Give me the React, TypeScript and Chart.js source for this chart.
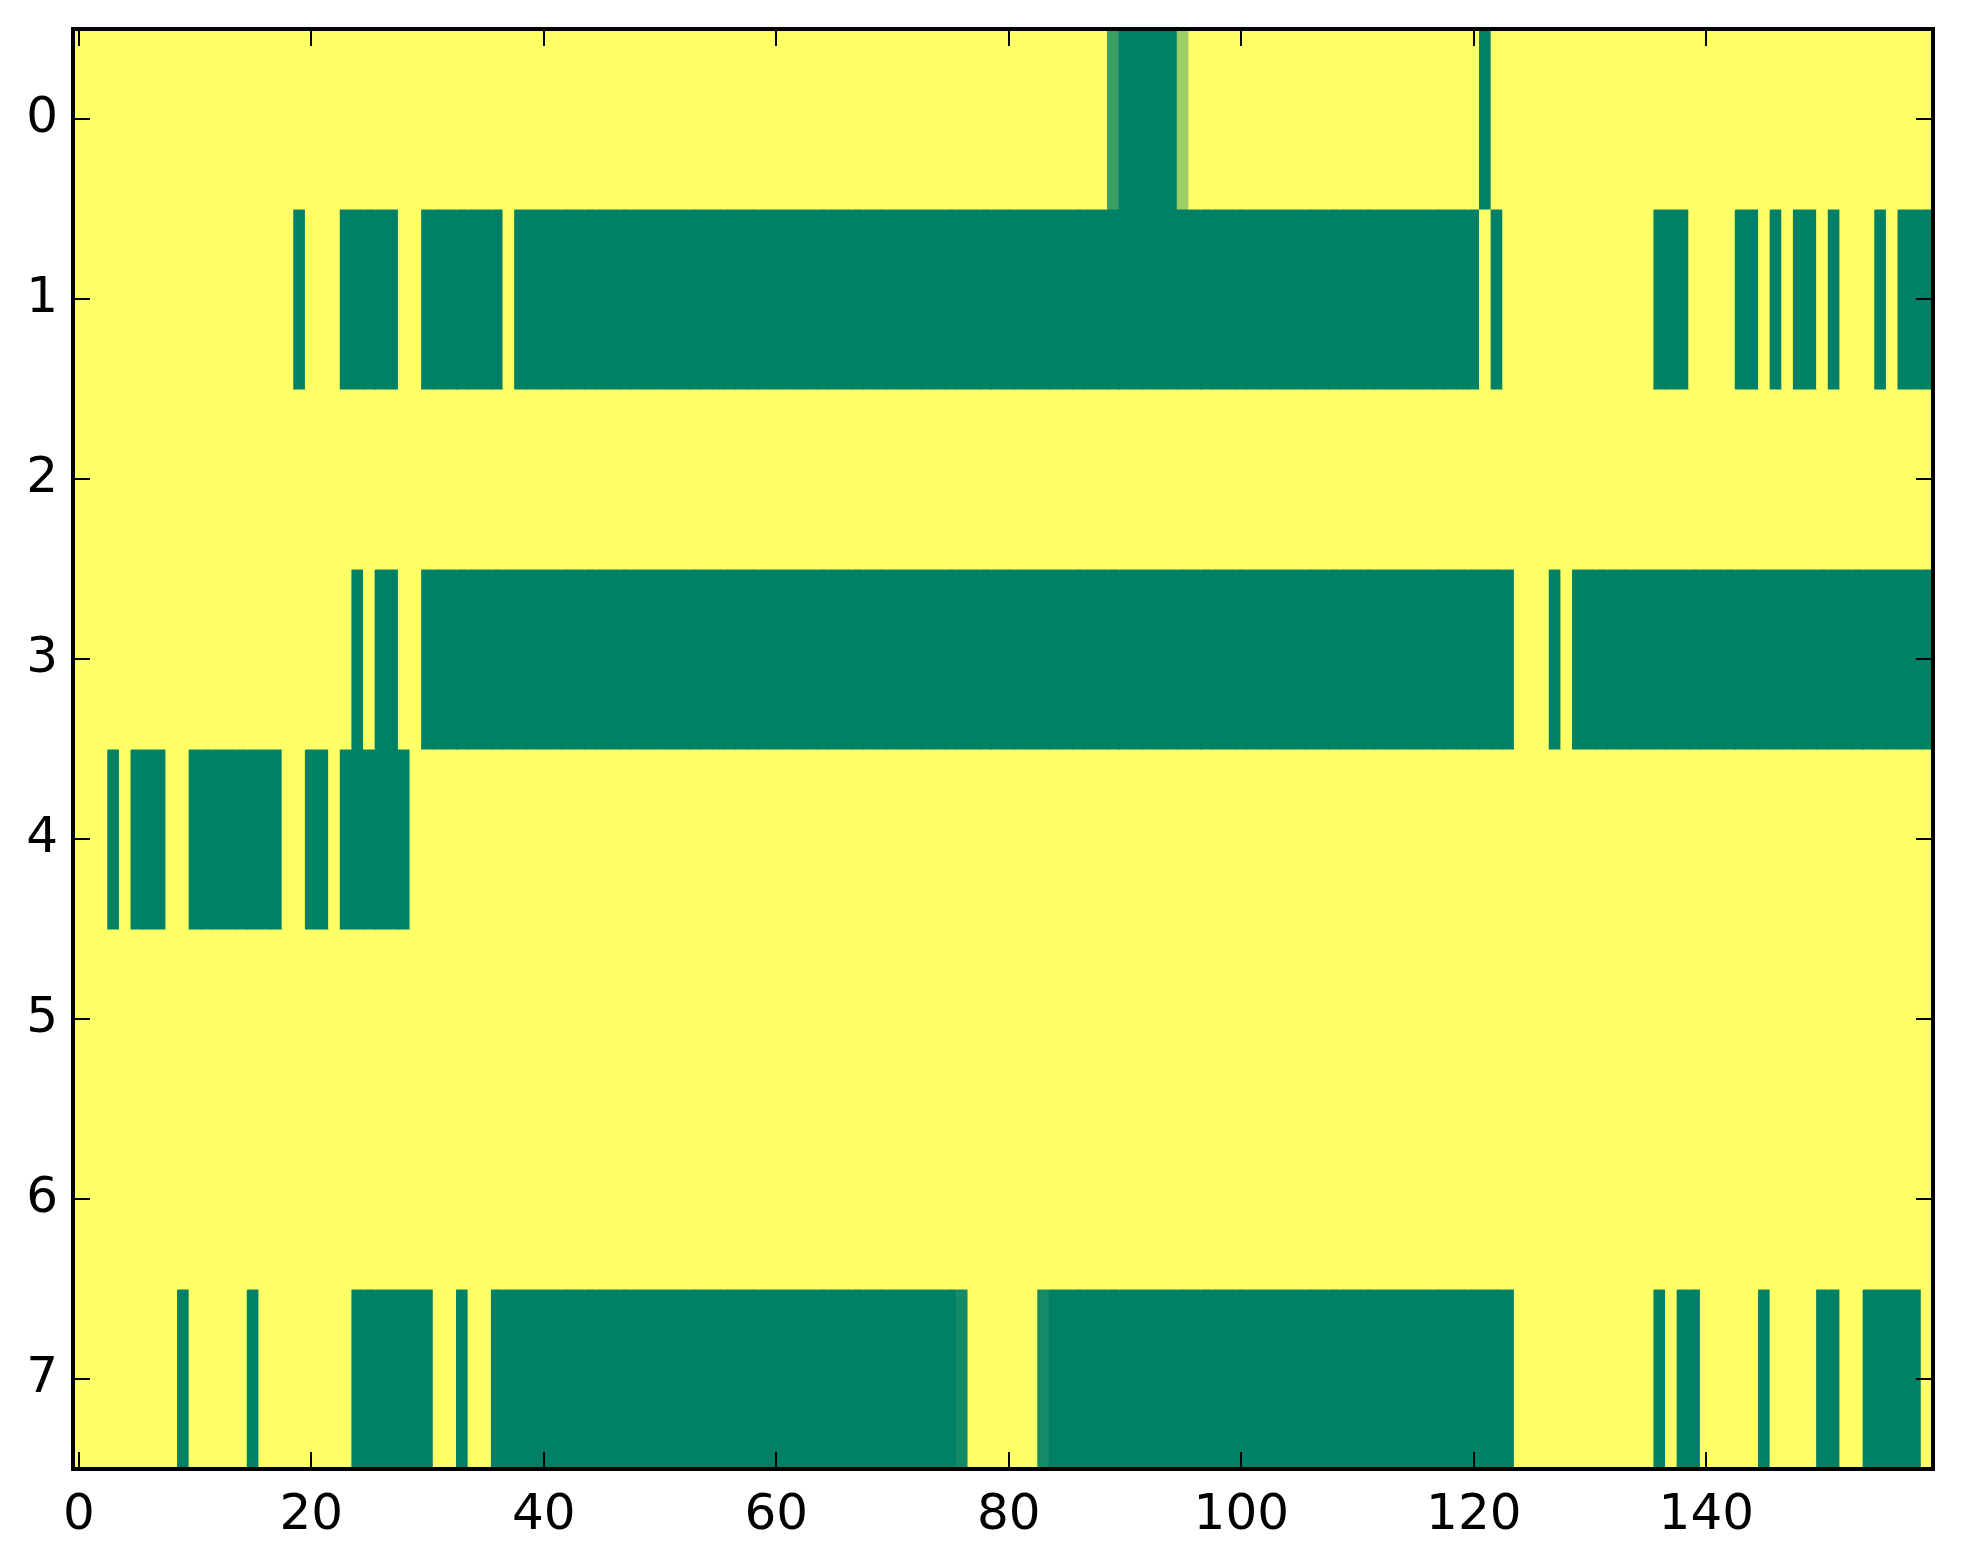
import React, { useEffect, useRef } from "react";
import { Chart, registerables } from "chart.js";

Chart.register(...registerables);

// Heatmap: 8 rows x 160 columns, values in [0,1] mapped with matplotlib "summer".
// Each row lists runs [startCol, endCol, value]; cells not listed have value 1.
const nCols = 160;
const xTicks = [0, 20, 40, 60, 80, 100, 120, 140];
const yTicks = [0, 1, 2, 3, 4, 5, 6, 7];

const row0 = [[89, 89, 0.23], [90, 94, 0], [95, 95, 0.62], [121, 121, 0]];
const row1 = [
  [19, 19, 0], [23, 27, 0], [30, 36, 0], [38, 120, 0], [122, 122, 0],
  [136, 138, 0], [143, 144, 0], [146, 146, 0], [148, 149, 0], [151, 151, 0],
  [155, 155, 0], [157, 159, 0],
];
const row2: number[][] = [];
const row3 = [[24, 24, 0], [26, 27, 0], [30, 123, 0], [127, 127, 0], [129, 159, 0]];
const row4 = [[3, 3, 0], [5, 7, 0], [10, 17, 0], [20, 21, 0], [23, 28, 0]];
const row5: number[][] = [];
const row6: number[][] = [];
const row7 = [
  [9, 9, 0], [15, 15, 0], [24, 30, 0], [33, 33, 0], [36, 75, 0], [76, 76, 0.08],
  [83, 83, 0.08], [84, 123, 0], [136, 136, 0], [138, 139, 0], [145, 145, 0],
  [150, 151, 0], [154, 158, 0],
];
const rows = [row0, row1, row2, row3, row4, row5, row6, row7];

function summer(v: number) {
  return `rgb(${Math.round(255 * v)},${Math.round(127.5 + 127.5 * v)},102)`;
}

const framePlugin = {
  id: "frame",
  afterDraw(chart: any) {
    const { ctx, chartArea, scales } = chart;
    const { left, right, top, bottom } = chartArea;
    ctx.save();
    ctx.strokeStyle = "#000";
    ctx.lineWidth = 2;
    const tl = 17;
    ctx.beginPath();
    xTicks.forEach((v) => {
      const x = Math.round(scales.x.getPixelForValue(v));
      ctx.moveTo(x, bottom);
      ctx.lineTo(x, bottom - tl);
      ctx.moveTo(x, top);
      ctx.lineTo(x, top + tl);
    });
    yTicks.forEach((v) => {
      const y = Math.round(scales.y.getPixelForValue(v));
      ctx.moveTo(left, y);
      ctx.lineTo(left + tl, y);
      ctx.moveTo(right, y);
      ctx.lineTo(right - tl, y);
    });
    ctx.stroke();
    ctx.lineWidth = 4;
    ctx.strokeRect(left, top, right - left, bottom - top);
    ctx.restore();
  },
};

export default function App() {
  const ref = useRef<HTMLCanvasElement>(null);
  useEffect(() => {
    document.body.style.margin = "0";
    const matrix = rows.map((runs) => {
      const a: number[] = new Array(nCols).fill(1);
      runs.forEach(([s, e, v]) => {
        for (let i = s; i <= e; i++) a[i] = v;
      });
      return a;
    });
    const datasets = matrix.map((vals, r) => ({
      type: "bar" as const,
      data: vals.map((v, c) => ({ x: c, y: [r - 0.5, r + 0.5] })),
      backgroundColor: vals.map(summer),
      borderWidth: 0,
      inflateAmount: 0.6,
      grouped: false,
      barPercentage: 1,
      categoryPercentage: 1,
    }));
    const tickFont = { family: "DejaVu Sans", size: 50 };
    const chart = new Chart(ref.current!, {
      type: "bar",
      data: { datasets: datasets as any },
      options: {
        responsive: false,
        animation: false,
        devicePixelRatio: 1,
        layout: { padding: { top: 29, right: 30, left: 0, bottom: 0 } },
        plugins: { legend: { display: false }, tooltip: { enabled: false } },
        scales: {
          x: {
            type: "linear",
            offset: false,
            min: -0.5,
            max: 159.5,
            position: "bottom",
            afterBuildTicks: (s: any) => {
              s.ticks = xTicks.map((v) => ({ value: v }));
            },
            afterFit: (s: any) => {
              s.height = 95;
              s.paddingLeft = 0;
              s.paddingRight = 0;
            },
            grid: { display: false },
            border: { display: false },
            ticks: { font: tickFont, color: "#000", padding: 9, maxRotation: 0, autoSkip: false },
          },
          y: {
            type: "linear",
            reverse: true,
            offset: false,
            min: -0.5,
            max: 7.5,
            afterBuildTicks: (s: any) => {
              s.ticks = yTicks.map((v) => ({ value: v }));
            },
            afterFit: (s: any) => {
              s.width = 73;
              s.paddingTop = 0;
              s.paddingBottom = 0;
            },
            grid: { display: false },
            border: { display: false },
            ticks: { font: tickFont, color: "#000", padding: 7, autoSkip: false },
          },
        },
      },
      plugins: [framePlugin],
    });
    return () => chart.destroy();
  }, []);
  return (
    <canvas
      ref={ref}
      width={1963}
      height={1564}
      style={{ display: "block", width: 1963, height: 1564 }}
    />
  );
}
